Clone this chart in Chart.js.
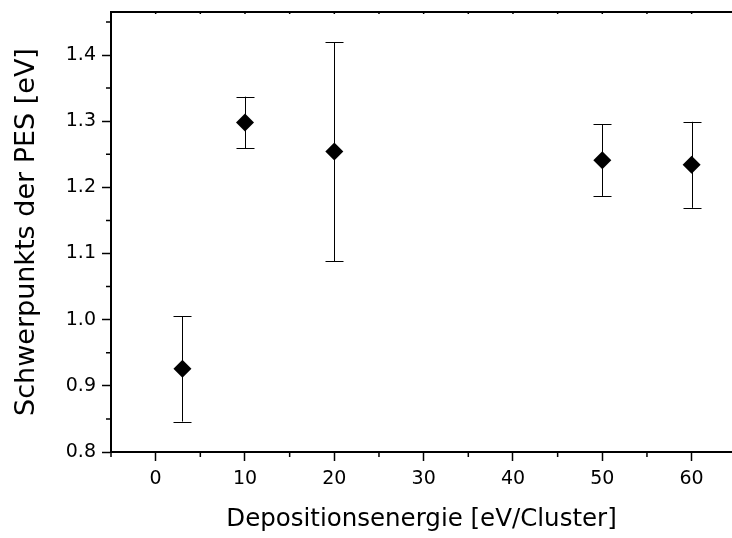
<!DOCTYPE html>
<html>
<head>
<meta charset="utf-8">
<script src="https://cdn.jsdelivr.net/npm/chart.js@4"></script>
<style>
  html, body { margin: 0; padding: 0; background: #fff; overflow: hidden; width: 732px; height: 538px; }
  canvas { display: block; }
</style>
</head>
<body>
<canvas id="c" width="732" height="538" style="width:732px;height:538px"></canvas>
<script>
// ---- data ----
const energies   = [3, 10, 20, 50, 60];                 // Depositionsenergie [eV/Cluster]
const centroids  = [0.926, 1.298, 1.254, 1.241, 1.234]; // Schwerpunkt der PES [eV]
const errUpper   = [1.005, 1.337, 1.419, 1.295, 1.299];
const errLower   = [0.846, 1.259, 1.088, 1.187, 1.169];
const xTickVals  = [0, 10, 20, 30, 40, 50, 60];
const xMinorVals = [-5, 5, 15, 25, 35, 45, 55];
const yTickVals  = [0.8, 0.9, 1.0, 1.1, 1.2, 1.3, 1.4];
const yMinorVals = [0.85, 0.95, 1.05, 1.15, 1.25, 1.35, 1.45];

const FONT = "'DejaVu Sans', sans-serif";

const errorBars = {
  id: 'errorBars',
  beforeDatasetsDraw(chart) {
    const ctx = chart.ctx, xs = chart.scales.x, ys = chart.scales.y;
    ctx.save();
    ctx.strokeStyle = '#000';
    ctx.lineWidth = 1;
    energies.forEach((e, i) => {
      const px = Math.round(xs.getPixelForValue(e)) + 0.5;
      const top = ys.getPixelForValue(errUpper[i]);
      const bot = ys.getPixelForValue(errLower[i]);
      ctx.beginPath();
      ctx.moveTo(px, top); ctx.lineTo(px, bot);
      ctx.moveTo(px - 9, Math.round(top) + 0.5); ctx.lineTo(px + 9, Math.round(top) + 0.5);
      ctx.moveTo(px - 9, Math.round(bot) + 0.5); ctx.lineTo(px + 9, Math.round(bot) + 0.5);
      ctx.stroke();
    });
    ctx.restore();
  }
};

const frame = {
  id: 'frame',
  afterDraw(chart) {
    const ctx = chart.ctx, a = chart.chartArea, xs = chart.scales.x, ys = chart.scales.y;
    ctx.save();
    ctx.strokeStyle = '#000';
    ctx.lineWidth = 2;
    ctx.beginPath();
    ctx.moveTo(a.left - 1, a.top); ctx.lineTo(chart.width, a.top);
    ctx.stroke();
    ctx.lineWidth = 1.5;
    ctx.beginPath();
    xMinorVals.forEach(v => {
      const px = xs.getPixelForValue(v);
      ctx.moveTo(px, a.bottom); ctx.lineTo(px, a.bottom + 5);
      ctx.moveTo(px, a.top); ctx.lineTo(px, a.top + 2);
    });
    xTickVals.forEach(v => {
      const px = xs.getPixelForValue(v);
      ctx.moveTo(px, a.top); ctx.lineTo(px, a.top + 2);
    });
    yMinorVals.forEach(v => {
      const py = ys.getPixelForValue(v);
      if (py >= a.top) { ctx.moveTo(a.left, py); ctx.lineTo(a.left - 5, py); }
    });
    ctx.stroke();
    ctx.restore();
  }
};

new Chart(document.getElementById('c'), {
  type: 'scatter',
  data: {
    datasets: [{
      data: energies.map((e, i) => ({ x: e, y: centroids[i] })),
      pointStyle: 'rectRot',
      pointRadius: 9,
      pointHoverRadius: 9,
      backgroundColor: '#000',
      borderColor: '#000',
      borderWidth: 0
    }]
  },
  options: {
    responsive: false,
    animation: false,
    events: [],
    layout: { autoPadding: false, padding: { top: 12, right: 0, bottom: 0, left: 0 } },
    plugins: { legend: { display: false }, tooltip: { enabled: false } },
    scales: {
      x: {
        type: 'linear',
        min: -5, max: 64.52,
        afterFit(s) { s.height = 86; s.paddingLeft = 0; s.paddingRight = 0; },
        afterBuildTicks(s) { s.ticks = xTickVals.map(v => ({ value: v })); },
        ticks: { font: { family: FONT, size: 19 }, color: '#000', padding: 7, maxRotation: 0,
                 callback: v => String(v) },
        grid: { drawOnChartArea: false, drawTicks: true, tickLength: 9, tickWidth: 1.5, tickColor: '#000' },
        border: { display: true, color: '#000', width: 2 },
        title: { display: true, text: 'Depositionsenergie [eV/Cluster]', color: '#000',
                 font: { family: FONT, size: 24.5 }, padding: { top: 0, bottom: 4 } }
      },
      y: {
        type: 'linear',
        min: 0.8, max: 1.465,
        afterFit(s) { s.width = 111; s.paddingTop = 0; s.paddingBottom = 0; },
        afterBuildTicks(s) { s.ticks = yTickVals.map(v => ({ value: v })); },
        ticks: { font: { family: FONT, size: 19 }, color: '#000', padding: 6,
                 callback: v => Number(v).toFixed(1) },
        grid: { drawOnChartArea: false, drawTicks: true, tickLength: 9, tickWidth: 1.5, tickColor: '#000' },
        border: { display: true, color: '#000', width: 2 },
        title: { display: true, text: 'Schwerpunkts der PES [eV]', color: '#000',
                 font: { family: FONT, size: 27 }, padding: { top: 11, bottom: 0 } }
      }
    }
  },
  plugins: [errorBars, frame]
});
</script>
</body>
</html>
